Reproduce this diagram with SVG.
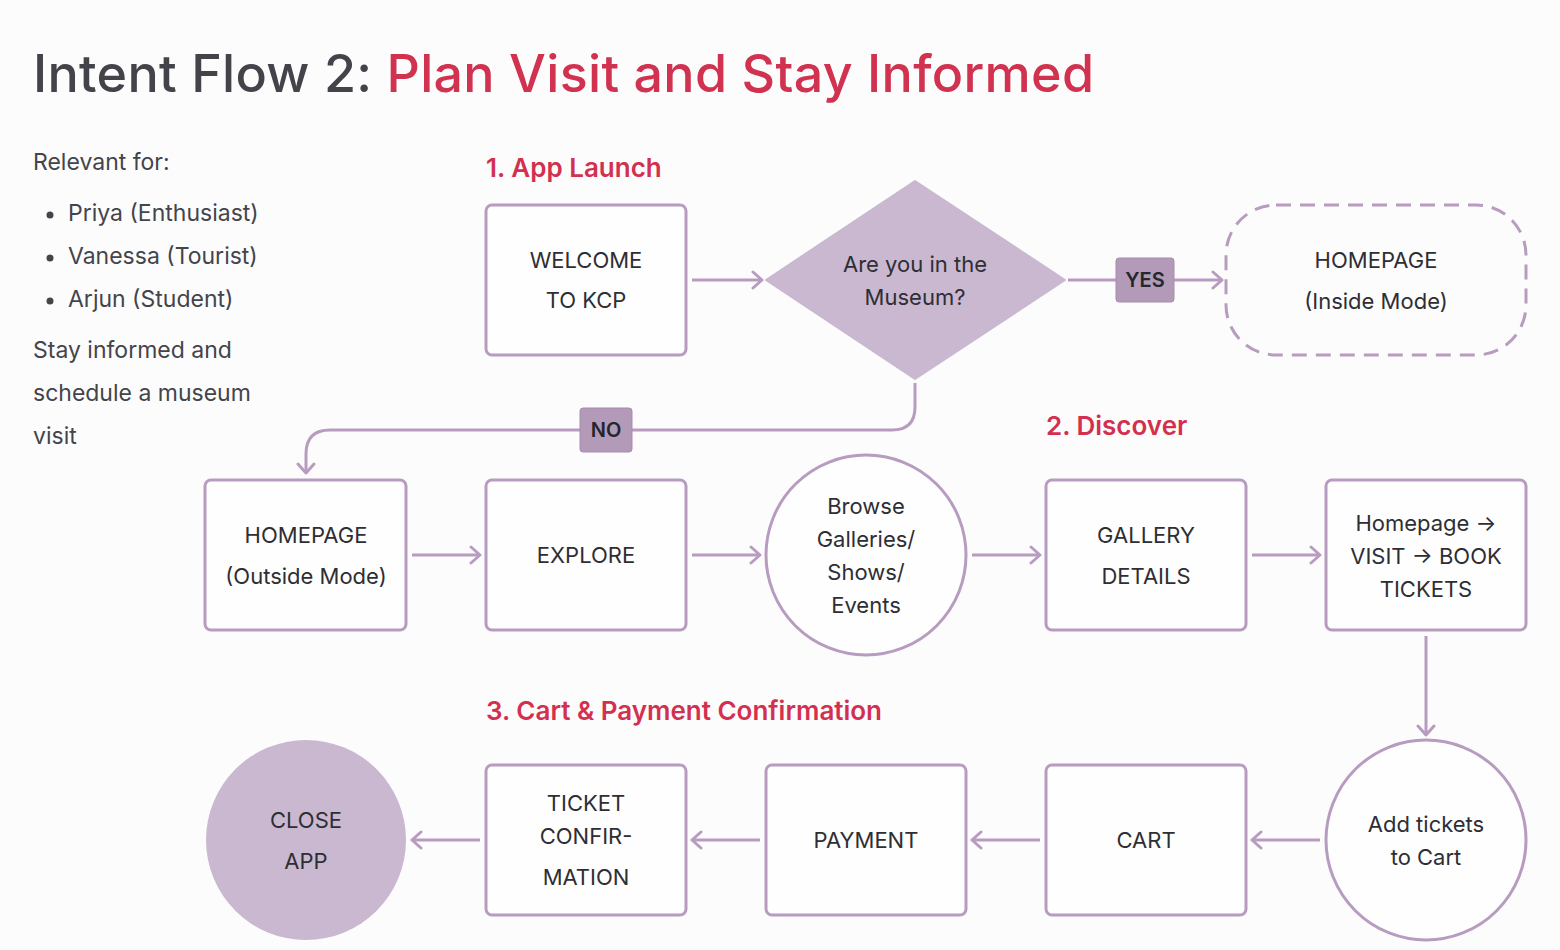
<svg xmlns="http://www.w3.org/2000/svg" width="1560" height="950" viewBox="0 0 1560 950">
<defs>
<style>
.bg{fill:#fdfcfd}
.box{fill:#fefefe;stroke:#b79cc0;stroke-width:3}
.t{font-family:Inter,"Noto Sans",sans-serif;font-size:22px;fill:#2e2e33;text-anchor:middle;dominant-baseline:central}
.lbl{fill:#b39ab9;stroke:#a68bad;stroke-width:1}
.lt{font-family:Inter,"Noto Sans",sans-serif;font-size:20px;font-weight:600;fill:#26262b;text-anchor:middle;dominant-baseline:central}
.conn{fill:none;stroke:#b79cc0;stroke-width:3}
.h{font-family:Inter,"Noto Sans",sans-serif;font-size:26px;font-weight:600;fill:#d3304f}
.side{font-family:Inter,"Noto Sans",sans-serif;font-size:23px;fill:#44444b}
</style>
<marker id="ah" viewBox="0 0 20 20" refX="17" refY="10" markerWidth="20" markerHeight="20" markerUnits="userSpaceOnUse" orient="auto">
<path d="M8 2 L17 10 L8 18" fill="none" stroke="#b79cc0" stroke-width="3" stroke-linecap="round" stroke-linejoin="round"/>
</marker>
</defs>
<rect class="bg" x="0" y="0" width="1560" height="950"/>
<text x="33" y="92" font-family="Inter,'Noto Sans',sans-serif" font-size="52" font-weight="500" letter-spacing="0.3" fill="#43434a">Intent Flow 2: <tspan fill="#d0324f">Plan Visit and Stay Informed</tspan></text>
<g id="sidebar">
<text class="side" x="33" y="170">Relevant for:</text>
<circle cx="50" cy="215" r="3.5" fill="#44444b"/>
<text class="side" x="68" y="221">Priya (Enthusiast)</text>
<circle cx="50" cy="258" r="3.5" fill="#44444b"/>
<text class="side" x="68" y="264">Vanessa (Tourist)</text>
<circle cx="50" cy="301" r="3.5" fill="#44444b"/>
<text class="side" x="68" y="307">Arjun (Student)</text>
<text class="side" x="33" y="358">Stay informed and</text>
<text class="side" x="33" y="401">schedule a museum</text>
<text class="side" x="33" y="444">visit</text>
</g>
<text class="h" x="486" y="177">1. App Launch</text>
<text class="h" x="1046" y="435">2. Discover</text>
<text class="h" x="486" y="720">3. Cart &amp; Payment Confirmation</text>
<g id="connectors">
<line class="conn" x1="692" y1="280" x2="762" y2="280" marker-end="url(#ah)"/>
<line class="conn" x1="1068" y1="280" x2="1222" y2="280" marker-end="url(#ah)"/>
<path class="conn" d="M915 383 V407 Q915 430 892 430 H330 Q306 430 306 454 V473" marker-end="url(#ah)"/>
<line class="conn" x1="412" y1="555" x2="480" y2="555" marker-end="url(#ah)"/>
<line class="conn" x1="692" y1="555" x2="760" y2="555" marker-end="url(#ah)"/>
<line class="conn" x1="972" y1="555" x2="1040" y2="555" marker-end="url(#ah)"/>
<line class="conn" x1="1252" y1="555" x2="1320" y2="555" marker-end="url(#ah)"/>
<line class="conn" x1="1426" y1="636" x2="1426" y2="735" marker-end="url(#ah)"/>
<line class="conn" x1="1320" y1="840" x2="1252" y2="840" marker-end="url(#ah)"/>
<line class="conn" x1="1040" y1="840" x2="972" y2="840" marker-end="url(#ah)"/>
<line class="conn" x1="760" y1="840" x2="692" y2="840" marker-end="url(#ah)"/>
<line class="conn" x1="480" y1="840" x2="412" y2="840" marker-end="url(#ah)"/>
<g id="label-yes"><rect class="lbl" x="1116" y="258" width="58" height="44" rx="3"/><text class="lt" x="1145" y="280">YES</text></g>
<g id="label-no"><rect class="lbl" x="580" y="408" width="52" height="44" rx="3"/><text class="lt" x="606" y="430">NO</text></g>
</g>
<g id="welcome"><rect class="box" x="486" y="205" width="200" height="150" rx="6"/><text class="t" x="586" y="260">WELCOME</text><text class="t" x="586" y="300">TO KCP</text></g>
<g id="decision"><path d="M915 181 L1065 280 L915 379 L766 280 Z" fill="#c9b8d0" stroke="#c9b8d0" stroke-width="2" stroke-linejoin="round"/><text class="t" x="915" y="264">Are you in the</text><text class="t" x="915" y="297">Museum?</text></g>
<g id="home-inside"><rect x="1226" y="205" width="300" height="150" rx="50" fill="none" stroke="#b79cc0" stroke-width="3" stroke-dasharray="15 9"/><text class="t" x="1376" y="260">HOMEPAGE</text><text class="t" x="1376" y="301">(Inside Mode)</text></g>
<g id="home-outside"><rect class="box" x="205" y="480" width="201" height="150" rx="6"/><text class="t" x="306" y="535">HOMEPAGE</text><text class="t" x="306" y="576">(Outside Mode)</text></g>
<g id="explore"><rect class="box" x="486" y="480" width="200" height="150" rx="6"/><text class="t" x="586" y="555">EXPLORE</text></g>
<g id="browse"><circle class="box" cx="866" cy="555" r="100"/><text class="t" x="866" y="506">Browse</text><text class="t" x="866" y="539">Galleries/</text><text class="t" x="866" y="572">Shows/</text><text class="t" x="866" y="605">Events</text></g>
<g id="gallery"><rect class="box" x="1046" y="480" width="200" height="150" rx="6"/><text class="t" x="1146" y="535">GALLERY</text><text class="t" x="1146" y="576">DETAILS</text></g>
<g id="book"><rect class="box" x="1326" y="480" width="200" height="150" rx="6"/><text class="t" x="1426" y="523">Homepage →</text><text class="t" x="1426" y="556">VISIT → BOOK</text><text class="t" x="1426" y="589">TICKETS</text></g>
<g id="add-cart"><circle class="box" cx="1426" cy="840" r="100"/><text class="t" x="1426" y="824">Add tickets</text><text class="t" x="1426" y="857">to Cart</text></g>
<g id="cart"><rect class="box" x="1046" y="765" width="200" height="150" rx="6"/><text class="t" x="1146" y="840">CART</text></g>
<g id="payment"><rect class="box" x="766" y="765" width="200" height="150" rx="6"/><text class="t" x="866" y="840">PAYMENT</text></g>
<g id="ticket"><rect class="box" x="486" y="765" width="200" height="150" rx="6"/><text class="t" x="586" y="803">TICKET</text><text class="t" x="586" y="836">CONFIR-</text><text class="t" x="586" y="877">MATION</text></g>
<g id="close"><circle cx="306" cy="840" r="100" fill="#c9b8d0"/><text class="t" x="306" y="820">CLOSE</text><text class="t" x="306" y="861">APP</text></g>
</svg>
